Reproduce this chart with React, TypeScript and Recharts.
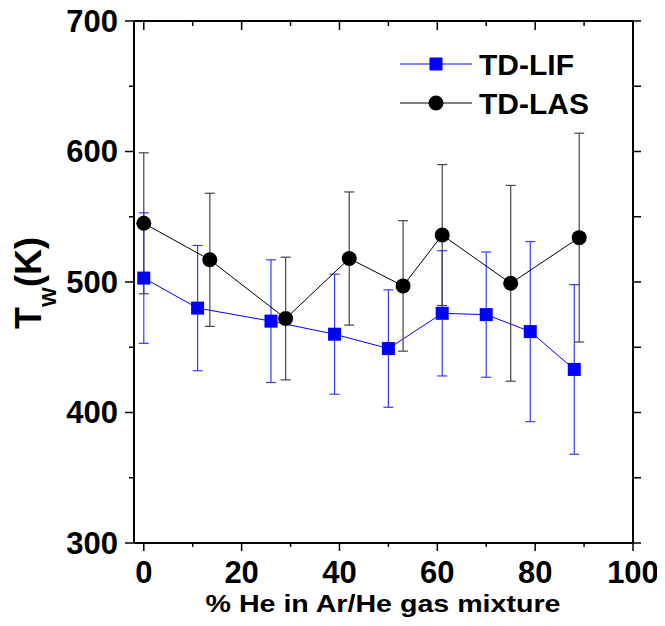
import { LineChart, Line, XAxis, YAxis, ErrorBar, Customized } from "recharts";

// TD-LIF (blue squares)
const lifX = [0, 11, 26, 39, 50, 61, 70, 79, 88];
const lifT = [503, 480, 470, 460, 449, 476, 475, 462, 433];
const lifErr = [50, 48, 47, 46, 45, 48, 48, 69, 65];

// TD-LAS (black circles)
const lasX = [0, 13.5, 29, 42, 53, 61, 75, 89];
const lasT = [545, 517, 472, 518, 497, 536, 499, 534];
const lasErr = [54, 51, 47, 51, 50, 54, 75, 80];

const xTicks = [0, 10, 20, 30, 40, 50, 60, 70, 80, 90, 100];
const yTicks = [300, 350, 400, 450, 500, 550, 600, 650, 700];

const lifData = lifX.map((x, i) => ({ x, t: lifT[i], err: lifErr[i] }));
const lasData = lasX.map((x, i) => ({ x, t: lasT[i], err: lasErr[i] }));

const FONT = "'Liberation Sans', Arial, sans-serif";

const BottomTick = (props: any) => {
  const { x, y, payload } = props;
  const major = payload.value % 20 === 0;
  return (
    <g>
      <line x1={x} y1={y} x2={x} y2={y + (major ? 8 : 4)} stroke="#000" strokeWidth={1.5} />
      {major && (
        <text x={x} y={y + 29} textAnchor="middle" dominantBaseline="central"
          fontFamily={FONT} fontWeight="bold" fontSize={31} fill="#000">
          {payload.value}
        </text>
      )}
    </g>
  );
};

// inward ticks on the top frame
const TopTick = (props: any) => {
  const { x, y, payload } = props;
  const major = payload.value % 20 === 0;
  return <line x1={x} y1={y + 1} x2={x} y2={y + 1 + (major ? 8 : 4)} stroke="#000" strokeWidth={1.5} />;
};

const LeftTick = (props: any) => {
  const { x, y, payload } = props;
  const major = payload.value % 100 === 0;
  return (
    <g>
      <line x1={x} y1={y} x2={x - (major ? 9 : 5)} y2={y} stroke="#000" strokeWidth={1.5} />
      {major && (
        <text x={x - 16} y={y} textAnchor="end" dominantBaseline="central"
          fontFamily={FONT} fontWeight="bold" fontSize={31} fill="#000">
          {payload.value}
        </text>
      )}
    </g>
  );
};

const RightTick = (props: any) => {
  const { x, y } = props;
  return <line x1={x - 1} y1={y} x2={x + 8} y2={y} stroke="#000" strokeWidth={1.5} />;
};

const SquareDot = (props: any) => {
  const { cx, cy, index } = props;
  return <rect key={`sq-${index}`} x={cx - 6.5} y={cy - 6.5} width={13} height={13} fill="#0000ff" />;
};

const LegendBox = () => (
  <g fontFamily={FONT} fontWeight="bold" fontSize={30} fill="#000">
    <line x1={400} y1={64} x2={472} y2={64} stroke="#0000ff" strokeWidth={1} />
    <rect x={429.5} y={57.5} width={13} height={13} fill="#0000ff" />
    <text x={479} y={75}>TD-LIF</text>
    <line x1={400} y1={103} x2={472} y2={103} stroke="#000" strokeWidth={1} />
    <circle cx={436} cy={103} r={7.5} fill="#000" />
    <text x={479} y={114}>TD-LAS</text>
  </g>
);

const YTitle = () => (
  <text x={41} y={283} transform="rotate(-90, 41, 283)" textAnchor="middle"
    fontFamily={FONT} fontWeight="bold" fontSize={36} fill="#000">
    T<tspan fontSize={21} dy={15}>W</tspan><tspan dy={-15}>(K)</tspan>
  </text>
);

const XTitle = () => (
  <text x={383} y={612} textAnchor="middle" fontFamily={FONT} fontWeight="bold"
    fontSize={24} fill="#000" textLength={355} lengthAdjust="spacingAndGlyphs">
    % He in Ar/He gas mixture
  </text>
);

const frameLine = { stroke: "#000", strokeWidth: 2 };

export default function App() {
  // pull the chart up into the body margin so the whole 665x626 page is the drawing area
  return (
    <div style={{ margin: "-8px 0 0 -8px", width: 665, height: 626 }}>
      <LineChart width={665} height={626} margin={{ top: 20, right: 31, left: 0, bottom: 0 }}>
        <XAxis xAxisId="b" type="number" dataKey="x" domain={[-2, 100]} ticks={xTicks}
          allowDataOverflow height={83} tickSize={0} tickMargin={0} tickLine={false}
          tick={<BottomTick />} axisLine={frameLine} interval={0} />
        <XAxis xAxisId="t" orientation="top" type="number" dataKey="x" domain={[-2, 100]} ticks={xTicks}
          allowDataOverflow height={1} tickSize={0} tickMargin={0} tickLine={false}
          tick={<TopTick />} axisLine={frameLine} interval={0} />
        <YAxis yAxisId="l" type="number" domain={[300, 700]} ticks={yTicks} allowDataOverflow
          width={134} tickSize={0} tickMargin={0} tickLine={false} tick={<LeftTick />}
          axisLine={frameLine} interval={0} />
        <YAxis yAxisId="r" orientation="right" type="number" domain={[300, 700]} ticks={yTicks}
          allowDataOverflow width={1} tickSize={0} tickMargin={0} tickLine={false}
          tick={<RightTick />} axisLine={frameLine} interval={0} />
        <Line xAxisId="b" yAxisId="l" data={lifData} dataKey="t" stroke="#0000ff" strokeWidth={1}
          dot={<SquareDot />} activeDot={false} isAnimationActive={false}>
          <ErrorBar dataKey="err" direction="y" width={5} stroke="#3b3bff" strokeWidth={1.2} />
        </Line>
        <Line xAxisId="b" yAxisId="l" data={lasData} dataKey="t" stroke="#000" strokeWidth={1}
          dot={{ r: 7.5, fill: "#000", stroke: "#000", strokeWidth: 0 }} activeDot={false}
          isAnimationActive={false}>
          <ErrorBar dataKey="err" direction="y" width={5} stroke="#444" strokeWidth={1.2} />
        </Line>
        <Customized component={LegendBox} />
        <Customized component={YTitle} />
        <Customized component={XTitle} />
      </LineChart>
    </div>
  );
}
